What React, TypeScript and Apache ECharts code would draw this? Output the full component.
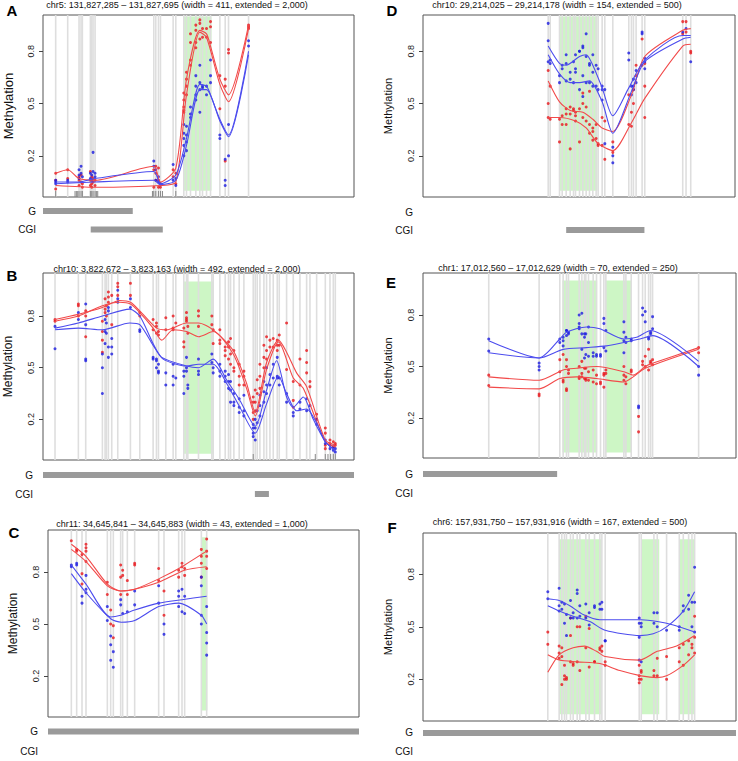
import React, { useEffect, useRef } from "react";
import * as echarts from "echarts";

// ---------------- Panel A ----------------
const aTitle = "chr5: 131,827,285 – 131,827,695 (width = 411, extended = 2,000)";
const aXRange = [10, 942];
const aSites = [48, 84, 118, 124, 128, 152, 156, 160, 166, 342, 348, 356, 362, 400, 408, 432, 440, 452, 468, 480, 488, 500, 512, 540, 556, 566, 626];
const aRed = [[0.10, 0.01, 0.06], [0.12, 0.07], [0.08, 0.03, 0.06], [0.05, 0.09], [0.04, 0.02], [0.11, 0.06, 0.03], [0.08, 0.04, 0.02], [0.05, 0.07], [0.06, 0.03], [0.12, 0.02], [0.14, 0.10, 0.06], [0.13, 0.06, 0.02], [0.04, 0.02], [0.12, 0.08], [0.10, 0.04], [0.52, 0.46, 0.48, 0.45, 0.56], [0.60, 0.64, 0.68, 0.55], [0.72, 0.85, 0.90, 0.75], [0.92, 0.95, 0.82, 0.85], [0.98, 0.96, 0.87], [0.93, 0.88], [0.88, 0.93], [0.94, 0.97, 0.85], [0.47, 0.66], [0.17, 0.64, 0.60], [0.81, 0.79], [0.95, 0.94, 0.93]];
const aBlue = [[0.05, 0.04, 0.06], [0.06, 0.05], [0.09, 0.07, 0.12], [0.14, 0.10], [0.08], [0.10, 0.07], [0.09, 0.06], [0.22, 0.11], [0.08, 0.10], [0.17, 0.14], [0.12, 0.06], [0.08, 0.05], [0.04], [0.15, 0.06], [0.07, 0.03], [0.38, 0.33, 0.30, 0.20, 0.26], [0.37, 0.32, 0.28, 0.23], [0.42, 0.48, 0.44], [0.60, 0.55, 0.66, 0.52], [0.72, 0.62, 0.58, 0.45], [0.60, 0.59], [0.60, 0.55], [0.75, 0.66, 0.62], [0.32, 0.30], [0.06, 0.03, 0.18], [0.20, 0.38], [0.86, 0.83]];
const aRedFit1 = [[48, 0.10], [84, 0.12], [118, 0.07], [166, 0.06], [342, 0.14], [362, 0.05], [408, 0.13], [440, 0.64], [480, 0.92], [500, 0.90], [512, 0.83], [540, 0.64], [566, 0.55], [626, 0.95]];
const aRedFit2 = [[48, 0.03], [166, 0.02], [362, 0.03], [408, 0.05], [440, 0.55], [480, 0.91], [500, 0.88], [540, 0.61], [566, 0.51], [626, 0.93]];
const aBlueFit1 = [[48, 0.05], [118, 0.05], [166, 0.07], [342, 0.11], [362, 0.04], [408, 0.09], [440, 0.30], [480, 0.61], [500, 0.60], [512, 0.55], [540, 0.41], [566, 0.32], [626, 0.80]];
const aBlueFit2 = [[48, 0.04], [166, 0.05], [342, 0.06], [362, 0.035], [408, 0.06], [440, 0.26], [480, 0.58], [500, 0.58], [540, 0.40], [566, 0.31], [626, 0.78]];
const aGreen = [[432, 515]];
const aGene = [[10, 279]];
const aCgi = [[153, 369]];
const aRug = [48, 106, 110, 114, 118, 124, 128, 152, 156, 160, 166, 170, 174, 338, 342, 348, 356, 362, 368, 408];

// ---------------- Panel D ----------------
const dTitle = "chr10: 29,214,025 – 29,214,178 (width = 154, extended = 500)";
const dXRange = [10, 947];
const dSites = [386, 392, 420, 428, 440, 452, 462, 468, 480, 490, 500, 510, 520, 530, 536, 548, 556, 580, 628, 636, 642, 650, 668, 676, 790, 800, 814];
const dRed = [[0.69, 0.50, 0.42], [0.41, 0.60], [0.28, 0.41], [0.43, 0.38], [0.47, 0.44, 0.38], [0.48, 0.44, 0.24], [0.46, 0.47], [0.40, 0.43, 0.45], [0.47, 0.28], [0.50, 0.42, 0.56], [0.48, 0.40], [0.57, 0.38, 0.33], [0.36, 0.29, 0.34], [0.30, 0.38], [0.27, 0.26], [0.42, 0.26], [0.40, 0.18], [0.22, 0.28], [0.38, 0.55], [0.37, 0.45], [0.58, 0.50], [0.72, 0.66], [0.87, 0.72], [0.42, 0.60, 0.73], [0.97, 0.90], [0.97, 0.91], [0.79, 0.80]];
const dBlue = [[0.96, 0.86, 0.74], [0.75, 0.73], [0.66, 0.62], [0.72, 0.70], [0.78, 0.73, 0.63], [0.64, 0.68], [0.74, 0.62], [0.70, 0.68, 0.78], [0.80, 0.80, 0.58], [0.83, 0.82, 0.66, 0.54], [0.90, 0.77, 0.62], [0.73, 0.62, 0.72], [0.78, 0.68, 0.60], [0.72, 0.60], [0.70, 0.58], [0.60, 0.58, 0.52], [0.58, 0.27], [0.25, 0.20, 0.16], [0.79, 0.75], [0.60, 0.55], [0.64, 0.58, 0.60], [0.62, 0.69], [0.90, 0.91], [0.70, 0.76, 0.74], [0.91], [0.93], [0.74]];
const dRedFit1 = [[386, 0.63], [420, 0.51], [452, 0.46], [490, 0.45], [520, 0.41], [548, 0.36], [580, 0.34], [636, 0.55], [676, 0.77], [790, 0.92], [814, 0.93]];
const dRedFit2 = [[386, 0.42], [420, 0.42], [468, 0.40], [500, 0.36], [536, 0.27], [580, 0.23], [636, 0.39], [676, 0.53], [790, 0.83], [814, 0.84]];
const dBlueFit1 = [[386, 0.83], [420, 0.73], [440, 0.72], [480, 0.77], [500, 0.78], [520, 0.72], [548, 0.59], [580, 0.43], [628, 0.59], [676, 0.75], [790, 0.89], [814, 0.89]];
const dBlueFit2 = [[386, 0.78], [420, 0.67], [452, 0.62], [480, 0.62], [510, 0.63], [548, 0.51], [580, 0.33], [636, 0.57], [676, 0.74], [790, 0.87], [814, 0.88]];
const dGreen = [[420, 534]];
const dGene: number[][] = [];
const dCgi = [[440, 675]];
const dRug: number[] = [];

// ---------------- Panel B ----------------
const bTitle = "chr10: 3,822,672 – 3,823,163 (width = 492, extended = 2,000)";
const bXRange = [10, 942];
const bSites = [46, 116, 138, 188, 196, 200, 206, 216, 234, 272, 300, 340, 350, 356, 378, 400, 408, 432, 440, 444, 476, 516, 520, 540, 556, 566, 572, 582, 598, 612, 640, 646, 652, 660, 672, 680, 690, 700, 712, 718, 740, 760, 780, 800, 810, 830, 856, 870, 880, 886];
const bRed = [[0.78, 0.77], [0.87, 0.86, 0.80], [0.83, 0.80, 0.68], [0.77, 0.66, 0.59, 0.71], [0.84, 0.90, 0.82], [0.86, 0.80], [0.91, 0.94, 0.88], [0.92, 0.75], [0.99, 0.97, 0.92], [0.99, 0.92], [0.80, 0.82], [0.78, 0.72], [0.76, 0.70, 0.74], [0.71, 0.69], [0.79, 0.72], [0.80, 0.73, 0.72], [0.76], [0.73, 0.65, 0.62], [0.78, 0.79, 0.82, 0.77], [0.74, 0.70], [0.83, 0.80, 0.74], [0.80, 0.75], [0.72, 0.64], [0.72, 0.66, 0.64], [0.62, 0.60, 0.57], [0.65, 0.62, 0.55], [0.67, 0.58, 0.52], [0.60, 0.48, 0.50], [0.52, 0.45, 0.40], [0.45, 0.40, 0.48], [0.33, 0.30, 0.24, 0.20], [0.37, 0.30, 0.25], [0.43, 0.35], [0.52, 0.45, 0.38], [0.63, 0.56, 0.50], [0.68, 0.60, 0.55], [0.66, 0.62], [0.67, 0.62], [0.66, 0.63, 0.60], [0.69, 0.63], [0.76, 0.49], [0.42, 0.31, 0.27], [0.55, 0.40], [0.60, 0.53, 0.47], [0.42, 0.39], [0.23, 0.20], [0.15, 0.12, 0.05, 0.03], [0.08, 0.06], [0.07, 0.04], [0.05, 0.06]];
const bBlue = [[0.74, 0.61], [0.78, 0.82], [0.87, 0.54, 0.55, 0.75], [0.58, 0.50, 0.35], [0.78, 0.64, 0.71], [0.76, 0.70], [0.85, 0.83, 0.62, 0.56], [0.67, 0.62, 0.58], [0.95, 0.90, 0.88], [0.90, 0.85], [0.72, 0.71], [0.55, 0.56], [0.55, 0.54, 0.50], [0.52, 0.48, 0.47], [0.47, 0.40], [0.52, 0.45, 0.40], [0.44], [0.48, 0.45, 0.35], [0.50, 0.48, 0.56], [0.40, 0.38], [0.55, 0.48, 0.46], [0.58, 0.53], [0.50, 0.47], [0.52, 0.48, 0.45], [0.48, 0.45, 0.42], [0.46, 0.42, 0.38], [0.42, 0.37, 0.30], [0.35, 0.30, 0.28], [0.32, 0.27, 0.24], [0.34, 0.25, 0.22], [0.17, 0.15, 0.12, 0.10], [0.20, 0.15, 0.08], [0.25, 0.18], [0.34, 0.28, 0.22], [0.42, 0.36, 0.30], [0.50, 0.40, 0.35], [0.46, 0.40], [0.52, 0.44], [0.56, 0.45, 0.44], [0.44, 0.40], [0.35, 0.30], [0.24, 0.22], [0.30, 0.26], [0.32, 0.25], [0.28], [0.20, 0.17], [0.08, 0.06], [0.05, 0.03], [0.04, 0.02], [0.03, 0.01]];
const bRedFit1 = [[46, 0.78], [116, 0.81], [188, 0.85], [240, 0.89], [272, 0.88], [300, 0.83], [350, 0.73], [380, 0.72], [440, 0.76], [476, 0.76], [520, 0.72], [580, 0.60], [620, 0.41], [646, 0.24], [680, 0.53], [716, 0.66], [740, 0.59], [770, 0.47], [800, 0.39], [856, 0.08], [886, 0.05]];
const bRedFit2 = [[46, 0.77], [116, 0.80], [188, 0.86], [240, 0.88], [272, 0.87], [300, 0.82], [340, 0.73], [366, 0.66], [400, 0.72], [440, 0.71], [476, 0.68], [520, 0.71], [580, 0.58], [620, 0.38], [646, 0.22], [680, 0.49], [716, 0.65], [760, 0.44], [790, 0.38], [856, 0.07], [886, 0.04]];
const bBlueFit1 = [[46, 0.73], [116, 0.76], [188, 0.80], [270, 0.84], [300, 0.80], [340, 0.64], [366, 0.56], [440, 0.51], [476, 0.50], [520, 0.55], [560, 0.43], [600, 0.31], [646, 0.16], [680, 0.37], [710, 0.54], [740, 0.33], [760, 0.27], [790, 0.33], [820, 0.20], [856, 0.07], [886, 0.02]];
const bBlueFit2 = [[46, 0.72], [116, 0.73], [188, 0.72], [270, 0.76], [300, 0.75], [340, 0.63], [370, 0.55], [440, 0.51], [476, 0.52], [520, 0.52], [560, 0.41], [600, 0.27], [646, 0.12], [680, 0.29], [716, 0.45], [740, 0.35], [770, 0.25], [800, 0.26], [830, 0.18], [856, 0.07], [886, 0.02]];
const bGreen = [[430, 522]];
const bGene = [[10, 942]];
const bCgi = [[645, 687]];
const bRug = [640, 826, 856, 864, 872, 880, 886];

// ---------------- Panel E ----------------
const eTitle = "chr1: 17,012,560 – 17,012,629 (width = 70, extended = 250)";
const eXRange = [10, 948];
const eSites = [207, 358, 420, 430, 440, 446, 478, 486, 494, 498, 506, 520, 530, 542, 552, 558, 612, 618, 634, 656, 668, 676, 686, 692, 698, 836];
const eRed = [[0.45, 0.39], [0.34, 0.33], [0.54, 0.47], [0.57, 0.42, 0.41], [0.54, 0.50, 0.36, 0.37], [0.48, 0.46], [0.50, 0.44, 0.43], [0.53, 0.46, 0.44], [0.49, 0.43], [0.49, 0.43, 0.42], [0.47, 0.42], [0.48, 0.41], [0.45, 0.40], [0.41, 0.40], [0.46, 0.45, 0.38], [0.48, 0.46], [0.50, 0.45, 0.42], [0.44, 0.40], [0.47, 0.48], [0.21, 0.12], [0.53, 0.51], [0.56, 0.50], [0.60, 0.48], [0.53, 0.52], [0.54, 0.51], [0.61, 0.58]];
const eBlue = [[0.66, 0.59], [0.52, 0.50, 0.48], [0.66, 0.64], [0.67, 0.65, 0.62], [0.71, 0.71, 0.68], [0.69, 0.70], [0.72, 0.73, 0.75, 0.80], [0.81, 0.69, 0.60], [0.69, 0.67, 0.55], [0.69, 0.57], [0.73, 0.64, 0.56], [0.58, 0.56], [0.57, 0.56], [0.56, 0.57], [0.78, 0.75, 0.61], [0.71, 0.59], [0.76, 0.70, 0.65, 0.58], [0.67, 0.64], [0.66, 0.65], [0.27, 0.26], [0.84, 0.80], [0.82, 0.76], [0.67, 0.66], [0.70, 0.69], [0.79, 0.72], [0.50, 0.45]];
const eRedFit1 = [[207, 0.44], [358, 0.42], [430, 0.48], [470, 0.49], [530, 0.50], [612, 0.47], [640, 0.45], [676, 0.50], [700, 0.52], [836, 0.61]];
const eRedFit2 = [[207, 0.38], [358, 0.37], [420, 0.43], [470, 0.44], [530, 0.43], [612, 0.41], [640, 0.44], [676, 0.49], [836, 0.60]];
const eBlueFit1 = [[207, 0.65], [358, 0.55], [420, 0.66], [440, 0.70], [500, 0.73], [540, 0.72], [612, 0.66], [650, 0.67], [692, 0.71], [836, 0.53]];
const eBlueFit2 = [[207, 0.58], [358, 0.55], [430, 0.60], [500, 0.61], [560, 0.62], [612, 0.64], [660, 0.66], [698, 0.68], [836, 0.50]];
const eGreen = [[428, 532], [558, 636]];
const eGene = [[10, 412]];
const eCgi: number[][] = [];
const eRug: number[] = [];

// ---------------- Panel C ----------------
const cTitle = "chr11: 34,645,841 – 34,645,883 (width = 43, extended = 1,000)";
const cXRange = [10, 943];
const cSites = [80, 96, 112, 124, 188, 198, 206, 228, 234, 248, 270, 342, 358, 402, 412, 420, 470, 486];
const cRed = [[0.98], [0.93, 0.92], [0.90, 0.79, 0.73], [0.96, 0.94, 0.92, 0.86], [0.74, 0.67], [0.58, 0.50], [0.49, 0.42], [0.84, 0.77, 0.67], [0.81, 0.78], [0.75, 0.67], [0.85, 0.84], [0.82, 0.75], [0.69, 0.55], [0.81, 0.77], [0.85, 0.83], [0.82, 0.78], [0.93, 0.89, 0.85, 0.77], [0.99, 0.92, 0.89, 0.82]];
const cBlue = [[0.84, 0.83], [0.85, 0.84], [0.66, 0.62], [0.78, 0.70, 0.68], [0.60, 0.52], [0.43, 0.38, 0.29], [0.34, 0.25], [0.64, 0.61], [0.56], [0.57], [0.69, 0.61], [0.72, 0.62], [0.50, 0.44], [0.69, 0.66, 0.60], [0.70, 0.57], [0.66, 0.56], [0.77, 0.72, 0.55, 0.50], [0.60, 0.45, 0.39, 0.32]];
const cRedFit1 = [[80, 0.96], [124, 0.89], [188, 0.73], [228, 0.69], [270, 0.70], [342, 0.76], [412, 0.83], [486, 0.92]];
const cRedFit2 = [[80, 0.93], [124, 0.86], [188, 0.72], [228, 0.69], [270, 0.70], [342, 0.74], [420, 0.81], [486, 0.83]];
const cBlueFit1 = [[80, 0.84], [124, 0.73], [198, 0.54], [228, 0.55], [270, 0.58], [342, 0.62], [412, 0.64], [486, 0.66]];
const cBlueFit2 = [[80, 0.79], [124, 0.68], [198, 0.53], [230, 0.51], [270, 0.52], [342, 0.60], [402, 0.62], [470, 0.55], [486, 0.50]];
const cGreen = [[470, 488]];
const cGene = [[10, 943]];
const cCgi: number[][] = [];
const cRug: number[] = [];

// ---------------- Panel F ----------------
const fTitle = "chr6: 157,931,750 – 157,931,916 (width = 167, extended = 500)";
const fXRange = [10, 948];
const fSites = [384, 418, 426, 434, 440, 452, 460, 472, 480, 498, 508, 524, 540, 546, 556, 658, 664, 702, 712, 740, 778, 790, 806, 816, 824];
const fRed = [[0.47, 0.40], [0.39, 0.35, 0.32], [0.38, 0.33, 0.17], [0.28, 0.22, 0.20], [0.21, 0.20], [0.55, 0.45, 0.30], [0.29, 0.28], [0.50, 0.30], [0.50, 0.25], [0.56, 0.38], [0.49, 0.27], [0.30, 0.30], [0.38, 0.37], [0.39, 0.36], [0.30, 0.28], [0.28, 0.22, 0.20, 0.18], [0.25, 0.24, 0.20], [0.25, 0.22], [0.32, 0.22], [0.33, 0.20], [0.38, 0.30], [0.40, 0.28], [0.42, 0.34], [0.40, 0.38], [0.56, 0.44, 0.35]];
const fBlue = [[0.70, 0.66], [0.72, 0.62, 0.59], [0.64, 0.60], [0.52, 0.63], [0.45, 0.57], [0.65, 0.55], [0.55, 0.58], [0.69, 0.71, 0.55], [0.56, 0.62], [0.63, 0.55], [0.51, 0.58], [0.62, 0.61], [0.60, 0.63], [0.64, 0.60], [0.42, 0.42], [0.55, 0.52, 0.44, 0.31], [0.52, 0.50, 0.30], [0.58, 0.52], [0.58, 0.50], [0.48], [0.50, 0.48], [0.59, 0.62], [0.60, 0.68], [0.64, 0.50], [0.84, 0.64, 0.47]];
const fRedFit1 = [[384, 0.24], [418, 0.34], [460, 0.38], [494, 0.39], [530, 0.36], [556, 0.33], [658, 0.31], [712, 0.36], [770, 0.39], [824, 0.45]];
const fRedFit2 = [[384, 0.34], [418, 0.31], [472, 0.30], [540, 0.29], [600, 0.25], [664, 0.22], [712, 0.21], [740, 0.22], [790, 0.28], [824, 0.34]];
const fBlueFit1 = [[384, 0.66], [418, 0.65], [450, 0.62], [490, 0.57], [540, 0.54], [600, 0.54], [664, 0.54], [712, 0.53], [760, 0.51], [824, 0.47]];
const fBlueFit2 = [[384, 0.62], [418, 0.59], [460, 0.56], [510, 0.53], [556, 0.48], [660, 0.45], [700, 0.46], [740, 0.50], [790, 0.59], [824, 0.70]];
const fGreen = [[418, 545], [664, 718], [778, 822]];
const fGene = [[10, 948]];
const fCgi: number[][] = [];
const fRug: number[] = [];

const yTickValues = [0.2, 0.5, 0.8];
const trackNames = ["G", "CGI"];
const yName = "Methylation";

const PANELS = [
  { letter: "A", title: aTitle, xRange: aXRange, sites: aSites, red: aRed, blue: aBlue, redFits: [aRedFit1, aRedFit2], blueFits: [aBlueFit1, aBlueFit2], green: aGreen, gene: aGene, cgi: aCgi, rug: aRug },
  { letter: "D", title: dTitle, xRange: dXRange, sites: dSites, red: dRed, blue: dBlue, redFits: [dRedFit1, dRedFit2], blueFits: [dBlueFit1, dBlueFit2], green: dGreen, gene: dGene, cgi: dCgi, rug: dRug },
  { letter: "B", title: bTitle, xRange: bXRange, sites: bSites, red: bRed, blue: bBlue, redFits: [bRedFit1, bRedFit2], blueFits: [bBlueFit1, bBlueFit2], green: bGreen, gene: bGene, cgi: bCgi, rug: bRug },
  { letter: "E", title: eTitle, xRange: eXRange, sites: eSites, red: eRed, blue: eBlue, redFits: [eRedFit1, eRedFit2], blueFits: [eBlueFit1, eBlueFit2], green: eGreen, gene: eGene, cgi: eCgi, rug: eRug },
  { letter: "C", title: cTitle, xRange: cXRange, sites: cSites, red: cRed, blue: cBlue, redFits: [cRedFit1, cRedFit2], blueFits: [cBlueFit1, cBlueFit2], green: cGreen, gene: cGene, cgi: cCgi, rug: cRug },
  { letter: "F", title: fTitle, xRange: fXRange, sites: fSites, red: fRed, blue: fBlue, redFits: [fRedFit1, fRedFit2], blueFits: [fBlueFit1, fBlueFit2], green: fGreen, gene: fGene, cgi: fCgi, rug: fRug },
];

// layout (page pixels) for each panel, same order as PANELS
const LAYOUT = [
  { left: 43, top: 15, width: 311, height: 182, yMin: -0.036, yMax: 1.008, trackTop: 201.75, trackHeight: 37, trackMargin: 7, letterX: 12, letterY: 10, titleX: 177, titleY: 5, nameX: 8, nameSize: 13 },
  { left: 423, top: 15, width: 312, height: 182, yMin: -0.036, yMax: 1.008, trackTop: 203, trackHeight: 36, trackMargin: 10, letterX: 392, letterY: 10, titleX: 557, titleY: 5, nameX: 388, nameSize: 11 },
  { left: 43, top: 273, width: 311, height: 187, yMin: -0.036, yMax: 1.05, trackTop: 465.5, trackHeight: 38, trackMargin: 10, letterX: 12, letterY: 275, titleX: 177, titleY: 269, nameX: 8, nameSize: 12 },
  { left: 423, top: 273, width: 313, height: 185, yMin: -0.032, yMax: 1.044, trackTop: 464.5, trackHeight: 38, trackMargin: 10, letterX: 391, letterY: 282, titleX: 558, titleY: 268, nameX: 388, nameSize: 11 },
  { left: 48, top: 530, width: 311, height: 187, yMin: -0.037, yMax: 1.042, trackTop: 721.5, trackHeight: 42, trackMargin: 10, letterX: 14, letterY: 532, titleX: 182, titleY: 524, nameX: 13, nameSize: 12 },
  { left: 423, top: 533, width: 313, height: 188, yMin: -0.038, yMax: 1.036, trackTop: 723.5, trackHeight: 42, trackMargin: 10, letterX: 392, letterY: 527, titleX: 560, titleY: 522, nameX: 388, nameSize: 11 },
];

const FONT = "Liberation Sans, Arial, Helvetica, sans-serif";
const RED_DOT = "#e8161c";
const BLUE_DOT = "#1c1ce0";
const RED_LINE = "#f24a4a";
const BLUE_LINE = "#4c4cee";
const GREEN = "#cdf6c5";
const GREY_LINE = "#dedede";
const BAR = "#9a9a9a";

function buildOption() {
  const grid: any[] = [];
  const xAxis: any[] = [];
  const yAxis: any[] = [];
  const series: any[] = [];
  const elements: any[] = [];

  PANELS.forEach((p, i) => {
    const L = LAYOUT[i];
    const gi = grid.length;
    grid.push({ left: L.left, top: L.top, width: L.width, height: L.height, show: true, borderColor: "#555", borderWidth: 1, backgroundColor: "transparent" });
    xAxis.push({ gridIndex: gi, type: "value", min: p.xRange[0], max: p.xRange[1], show: false });
    yAxis.push({
      gridIndex: gi, type: "value", min: L.yMin, max: L.yMax,
      axisLine: { show: false }, splitLine: { show: false },
      axisTick: { show: true, length: 4, customValues: yTickValues, lineStyle: { color: "#444" } },
      axisLabel: { customValues: yTickValues, rotate: 90, fontSize: 9, margin: 8, color: "#222", fontFamily: FONT, formatter: (v: number) => v.toFixed(1) },
    });
    const ti = grid.length;
    grid.push({ left: L.left, top: L.trackTop, width: L.width, height: L.trackHeight, show: false });
    xAxis.push({ gridIndex: ti, type: "value", min: p.xRange[0], max: p.xRange[1], show: false });
    yAxis.push({
      gridIndex: ti, type: "category", data: trackNames, inverse: true,
      axisLine: { show: false }, axisTick: { show: false }, splitLine: { show: false },
      axisLabel: { fontSize: 10, margin: L.trackMargin, color: "#111", fontFamily: FONT },
    });

    // green regions
    series.push({
      type: "custom", xAxisIndex: gi, yAxisIndex: gi, z: 1, silent: true, clip: true,
      data: p.green.map((g) => [g[0], g[1], 0, 1]),
      encode: { x: [0, 1], y: [2, 3] },
      renderItem: (params: any, api: any) => {
        const a = api.coord([api.value(0), api.value(3)]);
        const b = api.coord([api.value(1), api.value(2)]);
        return { type: "rect", shape: { x: a[0], y: a[1], width: b[0] - a[0], height: b[1] - a[1] }, style: { fill: GREEN } };
      },
    });
    // CpG site lines
    series.push({
      type: "custom", xAxisIndex: gi, yAxisIndex: gi, z: 2, silent: true, clip: true,
      data: p.sites.map((x) => [x, 0.5]),
      encode: { x: 0, y: 1 },
      renderItem: (params: any, api: any) => {
        const cs = params.coordSys;
        const c = api.coord([api.value(0), api.value(1)]);
        return { type: "line", shape: { x1: c[0], y1: cs.y, x2: c[0], y2: cs.y + cs.height }, style: { stroke: GREY_LINE, lineWidth: 1.6 } };
      },
    });
    // rug
    if (p.rug.length) {
      series.push({
        type: "custom", xAxisIndex: gi, yAxisIndex: gi, z: 3, silent: true, clip: true,
        data: p.rug.map((x) => [x, 0]),
        encode: { x: 0, y: 1 },
        renderItem: (params: any, api: any) => {
          const cs = params.coordSys;
          const c = api.coord([api.value(0), api.value(1)]);
          const yb = cs.y + cs.height;
          return { type: "line", shape: { x1: c[0], y1: yb, x2: c[0], y2: yb - 6 }, style: { stroke: "#888", lineWidth: 1 } };
        },
      });
    }
    // dots
    series.push({
      type: "scatter", xAxisIndex: gi, yAxisIndex: gi, z: 4, silent: true, symbol: "circle", symbolSize: 3,
      itemStyle: { color: RED_DOT },
      data: p.sites.flatMap((x, k) => p.red[k].map((v) => [x, v])),
    });
    series.push({
      type: "scatter", xAxisIndex: gi, yAxisIndex: gi, z: 4, silent: true, symbol: "circle", symbolSize: 3,
      itemStyle: { color: BLUE_DOT },
      data: p.sites.flatMap((x, k) => p.blue[k].map((v) => [x, v])),
    });
    // smoothed fits
    p.redFits.forEach((f) => series.push({
      type: "line", xAxisIndex: gi, yAxisIndex: gi, z: 5, silent: true, showSymbol: false, smooth: 0.25,
      lineStyle: { color: RED_LINE, width: 1.1 }, data: f,
    }));
    p.blueFits.forEach((f) => series.push({
      type: "line", xAxisIndex: gi, yAxisIndex: gi, z: 5, silent: true, showSymbol: false, smooth: 0.25,
      lineStyle: { color: BLUE_LINE, width: 1.1 }, data: f,
    }));
    // gene / CGI tracks
    series.push({
      type: "custom", xAxisIndex: ti, yAxisIndex: ti, z: 2, silent: true, clip: true,
      data: [...p.gene.map((g) => [g[0], g[1], 0]), ...p.cgi.map((c) => [c[0], c[1], 1])],
      encode: { x: [0, 1], y: 2 },
      renderItem: (params: any, api: any) => {
        const a = api.coord([api.value(0), api.value(2)]);
        const b = api.coord([api.value(1), api.value(2)]);
        return { type: "rect", shape: { x: a[0], y: a[1] - 3, width: b[0] - a[0], height: 6 }, style: { fill: BAR } };
      },
    });

    // texts
    elements.push({ type: "text", x: L.letterX, y: L.letterY, style: { text: p.letter, fontSize: 15, fontWeight: "bold", fontFamily: FONT, fill: "#000", textAlign: "center", textVerticalAlign: "middle" } });
    elements.push({ type: "text", x: L.titleX, y: L.titleY, style: { text: p.title, fontSize: 9, fontFamily: FONT, fill: "#111", textAlign: "center", textVerticalAlign: "middle" } });
    elements.push({ type: "text", x: L.nameX, y: L.top + L.height / 2, rotation: Math.PI / 2, style: { text: yName, fontSize: L.nameSize, fontFamily: FONT, fill: "#111", textAlign: "center", textVerticalAlign: "middle" } });
  });

  return { animation: false, backgroundColor: "#fff", grid, xAxis, yAxis, series, graphic: { elements } };
}

export default function App() {
  const ref = useRef<HTMLDivElement>(null);
  useEffect(() => {
    if (!ref.current) return;
    const chart = echarts.init(ref.current, undefined, { renderer: "svg" });
    chart.setOption(buildOption() as any);
    return () => chart.dispose();
  }, []);
  return <div ref={ref} style={{ position: "absolute", left: 0, top: 0, width: 738, height: 761 }} />;
}
